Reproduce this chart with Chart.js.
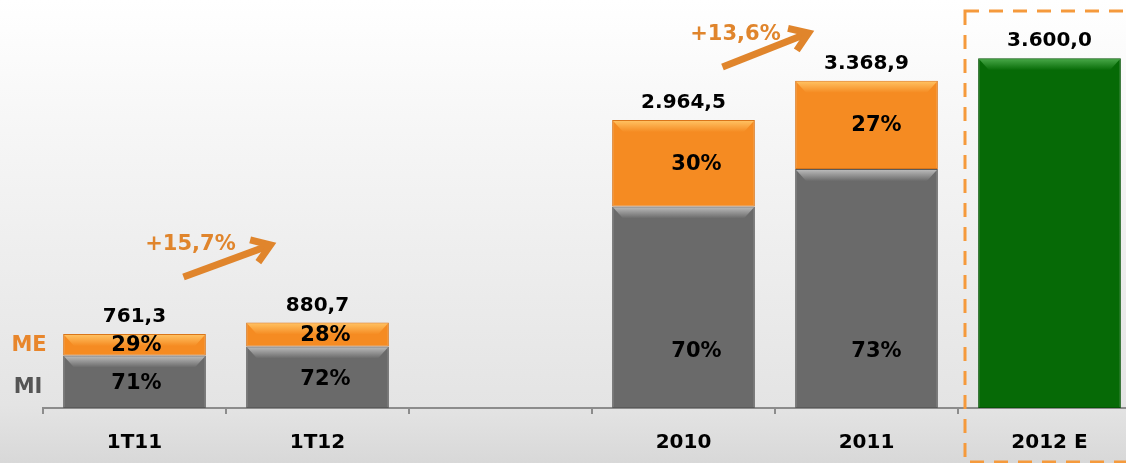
<!DOCTYPE html>
<html lang="pt">
<head>
<meta charset="UTF-8">
<title>Receita - MI / ME</title>
<script src="https://cdn.jsdelivr.net/npm/chart.js"></script>
<style>
    html, body { margin: 0; height: 100%; overflow: hidden; }
    body {
        background: linear-gradient(to bottom, #ffffff 0px, #f4f4f4 160px, #e4e4e4 405px, #d8d8d8 463px);
        font-family: "DejaVu Sans", Verdana, sans-serif;
    }
    .wrap { position: relative; width: 1160px; height: 463px; }
</style>
</head>
<body>
<div class="wrap"><canvas id="chart" width="1160" height="463"></canvas></div>
<script>
// data
const categories = ['1T11', '1T12', '', '2010', '2011', '2012 E'];
const totals = [761.3, 880.7, null, 2964.5, 3368.9, 3600.0];
const miShare = [71, 72, null, 70, 73, null];
const meShare = [29, 28, null, 30, 27, null];
const projected = [null, null, null, null, null, 3600.0];
const growthLabels = ['+15,7%', '+13,6%'];

const miValues = totals.map((t, i) => miShare[i] == null ? null : t * miShare[i] / 100);
const meValues = totals.map((t, i) => meShare[i] == null ? null : t * meShare[i] / 100);

function fmt(v) {
    const parts = v.toFixed(1).split('.');
    return parts[0].replace(/\B(?=(\d{3})+(?!\d))/g, '.') + ',' + parts[1];
}

const FONT = '"DejaVu Sans", Verdana, sans-serif';
const highlights = ['#b8b8b8', '#ffc060', '#45a545'];
const pctShift = [2, 8, 0, 13, 10];  // labels sit a bit right of the bar centre

function arrow(ctx, x1, y1, x2, y2) {
    const a = Math.atan2(y2 - y1, x2 - x1);
    ctx.save();
    ctx.strokeStyle = '#e0852c';
    ctx.lineWidth = 7;
    ctx.beginPath();
    ctx.moveTo(x1, y1);
    ctx.lineTo(x2 - 4 * Math.cos(a), y2 - 4 * Math.sin(a));
    ctx.stroke();
    ctx.lineJoin = 'miter';
    ctx.beginPath();
    ctx.moveTo(x2 - 21 * Math.cos(a - 0.6), y2 - 21 * Math.sin(a - 0.6));
    ctx.lineTo(x2, y2);
    ctx.lineTo(x2 - 21 * Math.cos(a + 0.6), y2 - 21 * Math.sin(a + 0.6));
    ctx.stroke();
    ctx.restore();
}

const decor = {
    id: 'decor',
    afterDatasetsDraw(chart) {
        const ctx = chart.ctx;
        const x = chart.scales.x;

        // bevel on top of every segment
        chart.data.datasets.forEach((ds, di) => {
            chart.getDatasetMeta(di).data.forEach((bar, i) => {
                if (ds.data[i] == null) return;
                const left = bar.x - bar.width / 2 + 1;
                const w = bar.width - 2;
                const h = Math.min(11, bar.base - bar.y);
                const g = ctx.createLinearGradient(0, bar.y + 1, 0, bar.y + 1 + h);
                g.addColorStop(0, highlights[di]);
                g.addColorStop(1, ds.backgroundColor);
                ctx.save();
                ctx.fillStyle = g;
                ctx.beginPath();
                ctx.moveTo(left, bar.y + 1);
                ctx.lineTo(left + w, bar.y + 1);
                ctx.lineTo(left + w - 10, bar.y + 1 + h);
                ctx.lineTo(left + 10, bar.y + 1 + h);
                ctx.closePath();
                ctx.fill();
                ctx.restore();
            });
        });

        ctx.save();
        ctx.textAlign = 'center';
        ctx.textBaseline = 'middle';
        ctx.fillStyle = '#000';

        // percent labels inside segments
        ctx.font = 'bold 21px ' + FONT;
        chart.getDatasetMeta(1).data.forEach((bar, i) => {
            if (meShare[i] == null) return;
            ctx.fillText(meShare[i] + '%', bar.x + pctShift[i], (bar.y + bar.base) / 2 + 1);
        });
        chart.getDatasetMeta(0).data.forEach((bar, i) => {
            if (miShare[i] == null) return;
            const y = Math.max((bar.y + bar.base) / 2 + 2, bar.base - 56);
            ctx.fillText(miShare[i] + '%', bar.x + pctShift[i], y);
        });

        // totals above bars
        ctx.font = 'bold 20px ' + FONT;
        totals.forEach((t, i) => {
            if (t == null) return;
            const y = chart.scales.y.getPixelForValue(t);
            ctx.fillText(fmt(t), x.getPixelForValue(i), y - 17);
        });

        // side labels for the stack
        ctx.font = 'bold 21px ' + FONT;
        const mi0 = chart.getDatasetMeta(0).data[0];
        const me0 = chart.getDatasetMeta(1).data[0];
        ctx.fillStyle = '#e8862c';
        ctx.fillText('ME', 29, (me0.y + me0.base) / 2 + 1);
        ctx.fillStyle = '#555555';
        ctx.fillText('MI', 28, (mi0.y + mi0.base) / 2 + 6);

        // growth arrows
        ctx.fillStyle = '#e0852c';
        const c0 = x.getPixelForValue(0), c1 = x.getPixelForValue(1);
        const c3 = x.getPixelForValue(3), c4 = x.getPixelForValue(4);
        ctx.fillText(growthLabels[0], c0 + 56, 245);
        arrow(ctx, c0 + 49, 277, c1 - 47, 245);
        ctx.fillText(growthLabels[1], c3 + 52, 35);
        arrow(ctx, c3 + 39, 67, c4 - 58, 33);

        // dashed box around the estimate
        const edge = (x.getPixelForValue(4) + x.getPixelForValue(5)) / 2 + 7;
        ctx.strokeStyle = '#f59a3c';
        ctx.lineWidth = 3;
        ctx.setLineDash([14, 10]);
        ctx.strokeRect(edge, 11, 300, 451);
        ctx.restore();
    }
};

new Chart(document.getElementById('chart'), {
    type: 'bar',
    data: {
        labels: categories,
        datasets: [
            { label: 'MI', data: miValues, backgroundColor: '#6a6a6a', borderColor: '#5a5a5a' },
            { label: 'ME', data: meValues, backgroundColor: '#f58b22', borderColor: '#d9761a' },
            { label: 'Total', data: projected, backgroundColor: '#066a06', borderColor: '#045404' }
        ]
    },
    options: {
        responsive: false,
        animation: false,
        devicePixelRatio: 1,
        layout: { padding: { left: 43, right: 19, top: 0, bottom: 0 } },
        datasets: { bar: { categoryPercentage: 1, barPercentage: 0.78, borderWidth: 1, borderSkipped: false } },
        plugins: { legend: { display: false }, tooltip: { enabled: false } },
        scales: {
            x: {
                stacked: true,
                border: { display: true, color: '#8c8c8c', width: 2 },
                grid: { offset: true, drawOnChartArea: false, tickLength: 6, color: '#8c8c8c', lineWidth: 2 },
                ticks: { color: '#000', padding: 17, maxRotation: 0, font: { family: FONT, size: 20, weight: 'bold' } },
                afterFit(scale) { scale.height = 55; }
            },
            y: { stacked: true, display: false, min: 0, max: 4200 }
        }
    },
    plugins: [decor]
});
</script>
</body>
</html>
